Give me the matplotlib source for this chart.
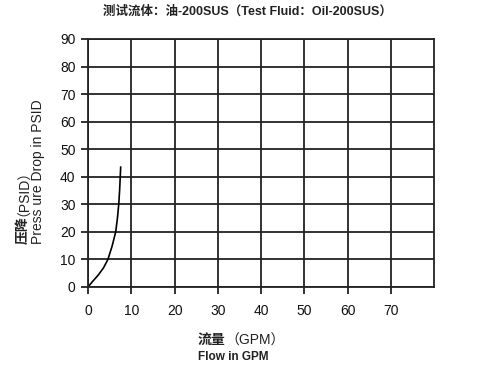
import matplotlib
matplotlib.use("Agg")
import matplotlib.pyplot as plt

plt.rcParams['font.family'] = ['Liberation Sans', 'Noto Sans CJK SC', 'DejaVu Sans']

flow = [0, 1.0, 2.4, 3.6, 4.6, 5.6, 6.4, 6.8, 7.1, 7.3, 7.45, 7.55]
pressure = [0, 1.9, 4.4, 7, 10, 15, 20, 25, 30, 35, 40, 43.5]
x_ticks = [0, 10, 20, 30, 40, 50, 60, 70]
y_ticks = [0, 10, 20, 30, 40, 50, 60, 70, 80, 90]

title = "测试流体：油-200SUS（Test Fluid：Oil-200SUS）"
ylab_cn = "压降"
ylab_unit = "（PSID）"
ylab_en = "Press ure Drop in PSID"
xlab_cn = "流量"
xlab_unit = "（GPM）"
xlab_en = "Flow in GPM"

W, H = 481, 366
fig = plt.figure(figsize=(W/100, H/100), dpi=100)
ax = fig.add_axes([88/W, 1-287/H, (434.3-88)/W, (287-39)/H])
ax.set_xlim(0, 80)
ax.set_ylim(0, 90)
ax.set_xticks(x_ticks)
ax.set_yticks(y_ticks)
ax.grid(True, color='#222222', linewidth=1.3)
for s in ax.spines.values():
    s.set_linewidth(1.3)
    s.set_color('#222222')
ax.tick_params(direction='out', length=5, width=1.3, color='#222222',
               labelsize=10, labelcolor='#111111')
ax.tick_params(axis='x', pad=7)
ax.tick_params(axis='y', pad=4)
ax.set_axisbelow(True)

ax.plot(flow, pressure, color='black', linewidth=1.2)

lat_cjk = ['Liberation Sans', 'Noto Sans CJK SC']
fig.text(247/W, 1-12/H, title, ha='center', va='center', fontsize=9,
         fontweight='bold', family=lat_cjk, color='#222222')

# y label (two lines, rotated)
yb = 1-244/H
t1 = fig.text(22.5/W, yb, ylab_cn, rotation=90, rotation_mode='anchor',
              ha='left', va='center', fontsize=10, fontweight='bold',
              family=lat_cjk, color='#222222')
fig.canvas.draw()
bb = t1.get_window_extent()
fig.text(17.5/W, bb.y1/H, ylab_unit, rotation=90, rotation_mode='anchor',
         ha='left', va='center', fontsize=10, family=lat_cjk, color='#222222')
fig.text(38/W, yb, ylab_en, rotation=90, rotation_mode='anchor',
         ha='left', va='center', fontsize=10,
         family=['Liberation Sans'], color='#222222')

# x label (two lines)
xl_y = 1-345/H
t2 = fig.text(198/W, xl_y, xlab_cn, ha='left', va='baseline', fontsize=10,
              fontweight='bold', family=lat_cjk, color='#222222')
fig.canvas.draw()
bb2 = t2.get_window_extent()
fig.text(bb2.x1/W, xl_y, xlab_unit, ha='left', va='baseline', fontsize=10,
         family=lat_cjk, color='#222222')
fig.text(198/W, 1-357/H, xlab_en, ha='left', va='center', fontsize=8.5,
         fontweight='bold', family=['Liberation Sans'], color='#222222')

fig.savefig('out.png', dpi=100)
